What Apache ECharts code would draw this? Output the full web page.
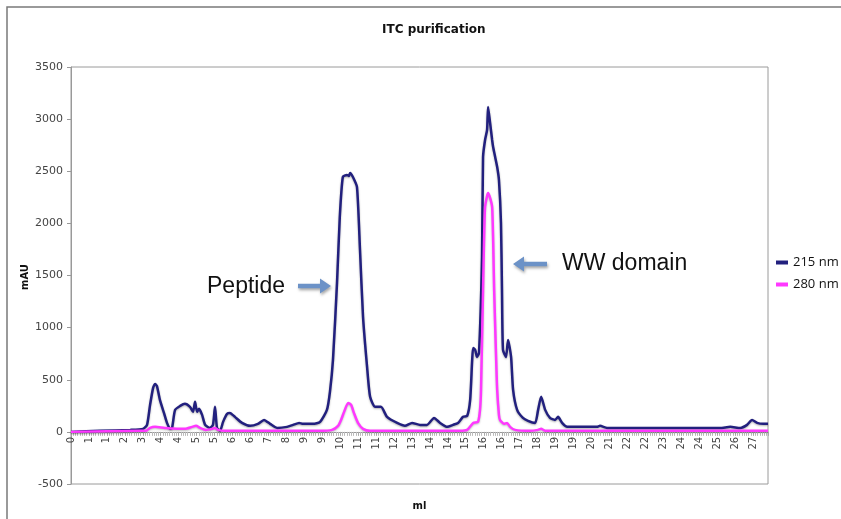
<!DOCTYPE html>
<html>
<head>
<meta charset="utf-8">
<title>ITC purification</title>
<script src="https://cdn.jsdelivr.net/npm/echarts@6/dist/echarts.min.js"></script>
<style>
  html, body { margin: 0; padding: 0; background: #fff; }
  #chart { width: 841px; height: 519px; }
</style>
</head>
<body>
<div id="chart"></div>
<script>
// tick labels on the x axis (rounded ml values as they were printed)
const xTickLabels = ['0', '1', '1', '2', '3', '4', '4', '5', '5', '6', '6', '7', '8', '9', '9', '10',
  '11', '11', '12', '13', '14', '14', '15', '16', '16', '17', '18', '19', '19', '20', '21', '22', '22',
  '23', '24', '24', '25', '26', '27']
const X_STEP = 27 / 38
const X_MAX = 27.59
const Y_MIN = -500
const Y_MAX = 3500

// 215 nm trace
const ml215 = [0, 1.15, 2.34, 2.85, 3.01, 3.13, 3.25, 3.33, 3.40, 3.52, 3.68, 3.80, 3.92, 4.00, 4.12, 4.32,
  4.51, 4.71, 4.83, 4.91, 4.99, 5.07, 5.19, 5.31, 5.50, 5.62, 5.70, 5.78, 5.90, 6.02, 6.18, 6.29, 6.49,
  6.77, 7.09, 7.40, 7.64, 7.88, 8.16, 8.55, 8.79, 9.03, 9.18, 9.58, 9.86, 10.13, 10.25, 10.37, 10.53,
  10.64, 10.76, 10.92, 11.00, 11.05, 11.16, 11.32, 11.44, 11.56, 11.72, 11.84, 12.04, 12.27, 12.51,
  12.91, 13.22, 13.50, 13.82, 14.09, 14.37, 14.61, 14.89, 15.12, 15.32, 15.52, 15.68, 15.80, 15.88,
  15.92, 16.00, 16.07, 16.15, 16.27, 16.31, 16.39, 16.47, 16.51, 16.59, 16.67, 16.71, 16.79, 16.87,
  16.94, 17.02, 17.06, 17.10, 17.22, 17.30, 17.42, 17.50, 17.66, 17.89, 18.09, 18.37, 18.49, 18.61,
  18.77, 18.96, 19.16, 19.28, 19.44, 19.64, 20.15, 20.82, 20.94, 21.22, 25.69, 26.10, 26.49, 26.76,
  26.96, 27.16, 27.40, 27.59]
const mau215 = [0, 10, 19, 29, 67, 259, 422, 460, 441, 307, 182, 86, 29, 38, 211, 249,
  269, 240, 192, 288, 192, 221, 163, 67, 38, 67, 240, 38, 10, 96, 173, 182, 144,
  86, 58, 77, 115, 77, 38, 48, 67, 86, 77, 77, 96, 211, 384, 690, 1429,
  2062, 2445, 2465, 2455, 2484, 2445, 2350, 1745, 1103, 623, 336, 240, 240, 144,
  86, 58, 86, 67, 67, 134, 86, 48, 67, 86, 144, 153, 307, 690,
  805, 786, 719, 758, 1678, 2637, 2800, 2896, 3117, 2963, 2800, 2733, 2637, 2541,
  2417, 2004, 1362, 786, 719, 882, 719, 403, 211, 134, 106, 86, 211, 336,
  211, 134, 115, 144, 86, 48, 48, 48, 58, 38, 38, 48, 38, 67,
  115, 86, 77, 77]

// 280 nm trace
const ml280 = [0, 2.73, 2.97, 3.13, 3.33, 3.72, 4.51, 4.79, 4.95, 5.11, 5.34, 5.58, 5.70, 5.82, 6.10,
  9.86, 10.33, 10.57, 10.69, 10.81, 10.97, 11.09, 11.20, 11.36, 11.56, 11.84, 15.40, 15.68, 15.92,
  16.11, 16.19, 16.23, 16.31, 16.35, 16.39, 16.47, 16.51, 16.59, 16.67, 16.71, 16.75, 16.83, 16.87,
  16.94, 16.98, 17.14, 17.26, 17.38, 17.58, 18.17, 18.49, 18.61, 18.77, 27.59]
const mau280 = [0, 10, 10, 38, 48, 38, 29, 48, 58, 38, 19, 29, 38, 19, 10,
  10, 19, 58, 115, 192, 278, 259, 182, 86, 29, 10, 10, 19, 86,
  96, 211, 403, 1362, 1841, 2158, 2263, 2292, 2244, 2158, 1841, 1362, 690, 403,
  163, 115, 77, 86, 48, 19, 10, 19, 29, 10, 10]

const zip = (xs, ys) => xs.map((x, i) => [x, ys[i]])

const GRID_TOP = 67
const GRID_BOTTOM = 35
const CHART_H = 519
// the x axis sits at mAU = 0, so lift it from the bottom edge of the grid
const plotH = CHART_H - GRID_TOP - GRID_BOTTOM
const zeroLift = plotH * (0 - Y_MIN) / (Y_MAX - Y_MIN)

const myChart = echarts.init(document.getElementById('chart'))

// arrow pointing right (dir 1) or left (dir -1), tail at x0
function arrow(x0, y, len, dir) {
  const head = 11
  const s = 2.2
  const hw = 7.5
  const tip = x0 + dir * len
  const neck = tip - dir * head
  return {
    type: 'polygon',
    shape: {
      points: [[x0, y - s], [neck, y - s], [neck, y - hw], [tip, y], [neck, y + hw], [neck, y + s], [x0, y + s]]
    },
    style: {
      fill: '#6c92c7',
      shadowBlur: 3,
      shadowColor: 'rgba(0,0,0,0.35)',
      shadowOffsetX: 1,
      shadowOffsetY: 2
    }
  }
}

myChart.setOption({
  animation: false,
  textStyle: { fontFamily: 'DejaVu Sans' },
  title: {
    text: 'ITC purification',
    left: 377,
    top: 19,
    textStyle: { fontSize: 12, fontWeight: 'bold', color: '#111', fontFamily: 'DejaVu Sans' }
  },
  grid: {
    left: 71,
    right: 73,
    top: GRID_TOP,
    bottom: GRID_BOTTOM,
    outerBoundsMode: 'none',
    containLabel: false,
    show: true,
    borderColor: '#9a9a9a',
    borderWidth: 1
  },
  legend: {
    orient: 'vertical',
    left: 771,
    top: 251,
    itemGap: 9,
    itemWidth: 12,
    itemHeight: 4,
    icon: 'rect',
    textStyle: { fontSize: 13, color: '#111', fontFamily: 'Open Sans' },
    data: ['215 nm', '280 nm']
  },
  xAxis: {
    type: 'value',
    name: 'ml',
    nameLocation: 'middle',
    nameGap: 70,
    nameTextStyle: { fontSize: 10, fontWeight: 'bold', color: '#111' },
    min: 0,
    max: X_MAX,
    interval: X_STEP,
    position: 'bottom',
    offset: -zeroLift,
    splitLine: { show: false },
    axisLine: { onZero: false, lineStyle: { color: '#999' } },
    axisTick: { show: true, length: 4, lineStyle: { color: '#aaa' } },
    minorTick: { show: true, splitNumber: 8, length: 4, lineStyle: { color: '#bbb' } },
    axisLabel: {
      rotate: 90,
      fontSize: 10,
      color: '#444',
      margin: 5,
      showMaxLabel: false,
      formatter: function(v) {
        const i = Math.round(v / X_STEP)
        if (Math.abs(v - i * X_STEP) > 1e-6) return ''
        return xTickLabels[i] || ''
      }
    }
  },
  yAxis: {
    type: 'value',
    min: Y_MIN,
    max: Y_MAX,
    interval: 500,
    splitLine: { show: false },
    axisLine: { show: true, onZero: false, lineStyle: { color: '#999' } },
    axisTick: { show: true, length: 4, lineStyle: { color: '#999' } },
    axisLabel: { fontSize: 11, color: '#444', margin: 8, formatter: v => String(v) }
  },
  series: [
    {
      name: '215 nm',
      type: 'line',
      data: zip(ml215, mau215),
      showSymbol: false,
      smooth: 0.2,
      color: '#22207e',
      lineStyle: { width: 2.5, shadowBlur: 2, shadowColor: 'rgba(0,0,0,0.3)', shadowOffsetY: 1 }
    },
    {
      name: '280 nm',
      type: 'line',
      data: zip(ml280, mau280),
      showSymbol: false,
      smooth: 0.2,
      color: '#ff38ff',
      lineStyle: { width: 2.5, shadowBlur: 2, shadowColor: 'rgba(0,0,0,0.25)', shadowOffsetY: 1 }
    }
  ],
  graphic: [
    // outer chart frame, only the left and top edges are inside the picture
    { type: 'polyline', shape: { points: [[7, 530], [7, 7], [850, 7]] }, style: { fill: null, stroke: '#7a7a7a', lineWidth: 1.5 } },
    // y axis title, placed by hand so it sits close to the tick labels
    {
      type: 'text', x: 25, y: 277, rotation: Math.PI / 2,
      style: { text: 'mAU', font: 'bold 10px "DejaVu Sans"', fill: '#111', align: 'center', verticalAlign: 'middle' }
    },
    { type: 'text', left: 207, top: 275, style: { text: 'Peptide', font: '23px "Liberation Sans"', fill: '#111' } },
    arrow(298, 286, 33, 1),
    { type: 'text', left: 562, top: 252, style: { text: 'WW domain', font: '23px "Liberation Sans"', fill: '#111' } },
    arrow(547, 264, 34, -1)
  ]
})
</script>
</body>
</html>
